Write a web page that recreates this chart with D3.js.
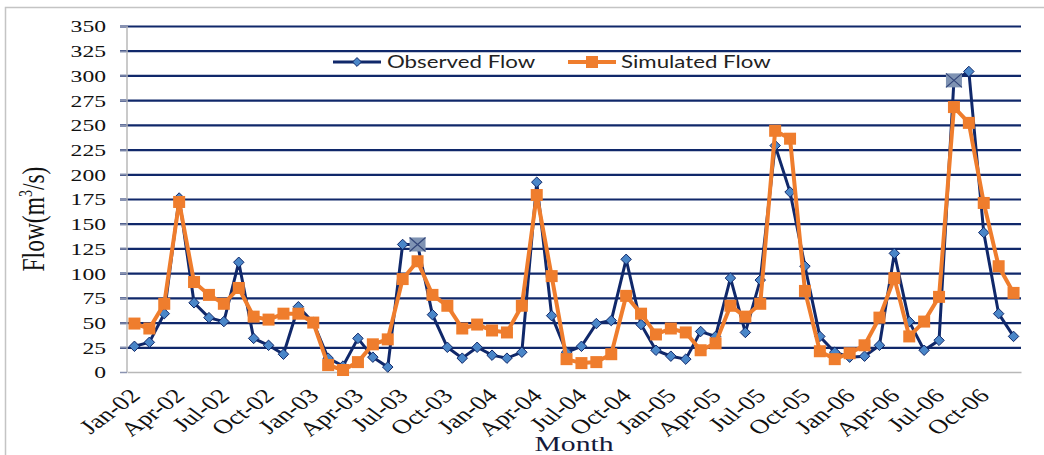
<!DOCTYPE html>
<html>
<head>
<meta charset="utf-8">
<script src="https://cdn.jsdelivr.net/npm/d3@7"></script>
<style>
html,body{margin:0;padding:0;background:#fff;}
svg{display:block;}
</style>
</head>
<body>
<div id="chart"></div>
<script>
/* Observed vs simulated monthly flow, Jan-02 .. Dec-06 */
var months=["Jan-02","Feb-02","Mar-02","Apr-02","May-02","Jun-02","Jul-02","Aug-02","Sep-02","Oct-02","Nov-02","Dec-02",
    "Jan-03","Feb-03","Mar-03","Apr-03","May-03","Jun-03","Jul-03","Aug-03","Sep-03","Oct-03","Nov-03","Dec-03",
    "Jan-04","Feb-04","Mar-04","Apr-04","May-04","Jun-04","Jul-04","Aug-04","Sep-04","Oct-04","Nov-04","Dec-04",
    "Jan-05","Feb-05","Mar-05","Apr-05","May-05","Jun-05","Jul-05","Aug-05","Sep-05","Oct-05","Nov-05","Dec-05",
    "Jan-06","Feb-06","Mar-06","Apr-06","May-06","Jun-06","Jul-06","Aug-06","Sep-06","Oct-06","Nov-06","Dec-06"];
var observed=[26,30,59,176,70,55,51,111,34,27,18,66,
    50,14,6,34,15,5,129,129,58,25,14,25,
    17,14,20,192,57,20,26,49,52,114,48,22,
    16,13,41,36,95,40,93,229,182,107,36,20,
    15,16,27,120,51,22,32,295,304,141,59,36];
var simulated=[49,44,69,172,91,78,69,85,56,53,59,59,
    50,7,2,10,28,33,94,112,78,67,44,48,
    42,40,67,179,97,13,9,10,18,77,59,38,
    44,40,22,29,67,56,69,244,236,82,21,13,
    19,27,55,95,36,51,76,268,252,171,107,80];
var highlighted=["Aug-03","Aug-06"];   // grey X markers on the observed series
var xTickLabels=["Jan-02","Apr-02","Jul-02","Oct-02","Jan-03","Apr-03","Jul-03","Oct-03","Jan-04","Apr-04","Jul-04","Oct-04",
    "Jan-05","Apr-05","Jul-05","Oct-05","Jan-06","Apr-06","Jul-06","Oct-06"];
var yTicks=[0,25,50,75,100,125,150,175,200,225,250,275,300,325,350];

var W=1044,H=455, m={top:26,right:23,bottom:83,left:127};
var width=W-m.left-m.right, height=H-m.top-m.bottom;
var NAVY="#10286a", ORANGE="#ef7d2d", SX=1.35;   // picture is stretched sideways
var SERIF="'Liberation Serif','Times New Roman',serif";

var svg=d3.select("#chart").append("svg").attr("width",W).attr("height",H);
svg.append("rect").attr("x",5.5).attr("y",7.5).attr("width",1060).attr("height",460)
    .attr("fill","none").attr("stroke","#c4c4c4").attr("stroke-width",1.5);
var g=svg.append("g").attr("transform","translate("+m.left+","+m.top+")");

var x=d3.scaleBand().domain(months).range([0,width]);
var y=d3.scaleLinear().domain([0,350]).range([height,0]);
var cx=function(d){return x(d)+x.bandwidth()/2;};

// gridlines
g.append("g").call(d3.axisLeft(y).tickValues(yTicks.slice(1)).tickSize(-width-7).tickFormat(""))
    .attr("transform","translate(-7,0)")
    .call(function(s){s.select(".domain").remove();s.selectAll("line").attr("stroke",NAVY).attr("stroke-width",2.2);});

// y axis
var ya=g.append("g").call(d3.axisLeft(y).tickValues(yTicks).tickSize(7));
ya.select(".domain").attr("stroke","#b8b8b8").attr("stroke-width",1.5).attr("d","M0,0V"+height);
ya.selectAll("line").attr("stroke","#8a93b0").attr("stroke-width",1.5);
ya.selectAll("text").attr("x",0).attr("dy","0.34em").attr("fill","#111")
    .style("font-family",SERIF).style("font-size","17.5px")
    .attr("transform","translate(-21,0) scale("+SX+",1)");

// x axis
var xa=g.append("g").attr("transform","translate(0,"+height+")")
    .call(d3.axisBottom(x).tickValues(xTickLabels).tickSize(0).tickPadding(0));
xa.select(".domain").attr("stroke","#b8b8b8").attr("stroke-width",1.5);
xa.selectAll("text").attr("fill","#111").style("font-family",SERIF).style("font-size","20px")
    .attr("text-anchor","end").attr("dy",null).attr("y",0)
    .attr("transform","translate(7,25) scale("+SX+",1) rotate(-45)");

// axis titles
svg.append("text").attr("transform","translate(44,219) scale("+SX+",1) rotate(-90)").attr("text-anchor","middle")
    .style("font-family",SERIF).style("font-size","23.5px").attr("fill","#111")
    .html("Flow(m<tspan dy='-9' font-size='14px'>3</tspan><tspan dy='9'>/s)</tspan>");
svg.append("text").attr("transform","translate(574,451) scale("+SX+",1)").attr("text-anchor","middle")
    .style("font-family",SERIF).style("font-size","22px").attr("fill","#141a3c").text("Month");

// series
var line=d3.line().x(function(d,i){return cx(months[i]);}).y(function(d){return y(d);});
g.append("path").datum(observed).attr("fill","none").attr("stroke",NAVY).attr("stroke-width",3).attr("d",line);
g.selectAll("path.dia").data(observed).enter().append("path").attr("class","dia")
    .attr("d",d3.symbol().type(d3.symbolDiamond2).size(70))
    .attr("transform",function(d,i){return "translate("+cx(months[i])+","+y(d)+")";})
    .attr("fill","#4a86c8").attr("stroke",NAVY).attr("stroke-width",1);

g.append("path").datum(simulated).attr("fill","none").attr("stroke",ORANGE).attr("stroke-width",4).attr("d",line);
g.selectAll("rect.sq").data(simulated).enter().append("rect").attr("class","sq")
    .attr("x",function(d,i){return cx(months[i])-6;}).attr("y",function(d){return y(d)-6;})
    .attr("width",12).attr("height",12).attr("fill",ORANGE);

highlighted.forEach(function(mn){
    var v=observed[months.indexOf(mn)], px=cx(mn), py=y(v);
    g.append("rect").attr("x",px-8).attr("y",py-7).attr("width",16).attr("height",14).attr("fill","#7f93b3");
    g.append("path").attr("d","M"+(px-8)+","+(py-7)+"L"+(px+8)+","+(py+7)+"M"+(px+8)+","+(py-7)+"L"+(px-8)+","+(py+7))
        .attr("stroke","#33467a").attr("stroke-width",1.2);
});

// legend
var lg=svg.append("g").attr("transform","translate(333,62)");
lg.append("line").attr("x1",0).attr("x2",48).attr("stroke",NAVY).attr("stroke-width",3);
lg.append("path").attr("d",d3.symbol().type(d3.symbolDiamond2).size(50)).attr("transform","translate(24,0)")
    .attr("fill","#4a86c8").attr("stroke",NAVY);
lg.append("text").attr("transform","translate(54,6) scale("+SX+",1)")
    .style("font-family","Lato,'Noto Sans',sans-serif").style("font-size","16.5px").attr("fill","#222").text("Observed Flow");
lg.append("line").attr("x1",235).attr("x2",283).attr("stroke",ORANGE).attr("stroke-width",4);
lg.append("rect").attr("x",253).attr("y",-6).attr("width",12).attr("height",12).attr("fill",ORANGE);
lg.append("text").attr("transform","translate(288,6) scale("+SX+",1)")
    .style("font-family","Lato,'Noto Sans',sans-serif").style("font-size","16.5px").attr("fill","#222").text("Simulated Flow");
</script>
</body>
</html>
